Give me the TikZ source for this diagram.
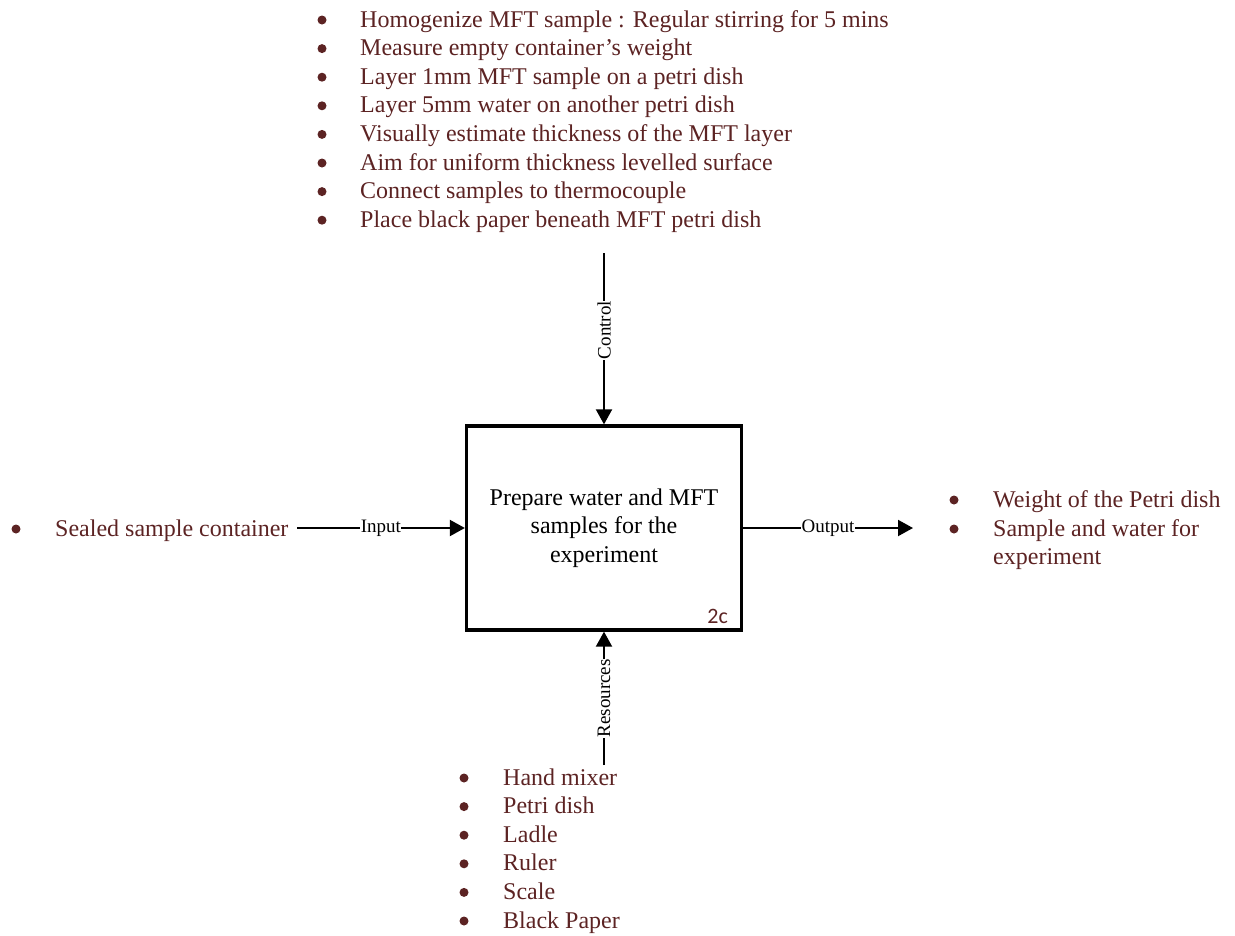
\documentclass[tikz,border=0pt]{standalone}
\usepackage{fontspec}
\setmainfont{Liberation Serif}
\newfontfamily\tagsans{Carlito}
\usetikzlibrary{arrows.meta}
\definecolor{itemtext}{RGB}{92,35,35}
\begin{document}
\begin{tikzpicture}[x=1pt,y=-1pt,
  item/.style={anchor=base west, inner sep=0pt, text=itemtext,
    font=\fontsize{24}{28.6}\selectfont},
  dot/.style={circle, fill=itemtext, inner sep=0pt, minimum size=9pt},
  flow/.style={line width=2pt, -{Triangle[length=15pt,width=16pt]}},
  tag/.style={fill=white, inner sep=0.5pt, font=\fontsize{19}{19}\selectfont},
  activity/.style={draw, line width=3.3pt, minimum width=275pt, minimum height=204pt,
    inner sep=0pt, align=center, font=\fontsize{24}{28.5}\selectfont},
]
\useasboundingbox (0,0) rectangle (1235,935);

% activity box
\node[activity] (box) at (604,528) {Prepare water and MFT\\samples for the\\experiment};
\node[anchor=base east, inner sep=0pt, text=itemtext, font=\tagsans\fontsize{22}{22}\selectfont]
  (boxid) at (728,623) {2c};

% control items
\foreach \t [count=\i] in {%
  Homogenize MFT sample : Regular stirring for 5 mins,
  Measure empty container’s weight,
  Layer 1mm MFT sample on a petri dish,
  Layer 5mm water on another petri dish,
  Visually estimate thickness of the MFT layer,
  Aim for uniform thickness levelled surface,
  Connect samples to thermocouple,
  Place black paper beneath MFT petri dish} {
  \node[item] (ctl\i) at (360,{27+28.6*(\i-1)}) {\t};
  \node[dot] (ctlb\i) at (322,{20+28.6*(\i-1)}) {};
}

% input item
\node[item] (in1) at (55,536) {Sealed sample container};
\node[dot] (inb1) at (16,529) {};

% output items
\node[item] (out1) at (993,507) {Weight of the Petri dish};
\node[dot] (outb1) at (954,500) {};
\node[item] (out2) at (993,536) {Sample and water for};
\node[dot] (outb2) at (954,529) {};
\node[item] (out3) at (993,564.5) {experiment};

% resource items
\foreach \t [count=\i] in {Hand mixer, Petri dish, Ladle, Ruler, Scale, Black Paper} {
  \node[item] (res\i) at (503,{785+28.6*(\i-1)}) {\t};
  \node[dot] (resb\i) at (464,{778+28.6*(\i-1)}) {};
}

% connectors
\coordinate (ctlsrc) at (604,253);
\coordinate (insrc) at (297,528);
\coordinate (outend) at (913,528);
\coordinate (ressrc) at (604,765);

\draw[flow] (ctlsrc) -- node[tag, rotate=90, pos=0.45] {Control} (box.north);
\draw[flow] (insrc) -- node[tag] {Input} (box.west);
\draw[flow] (box.east) -- node[tag] {Output} (outend);
\draw[flow] (ressrc) -- node[tag, rotate=90] {Resources} (box.south);
\end{tikzpicture}
\end{document}
